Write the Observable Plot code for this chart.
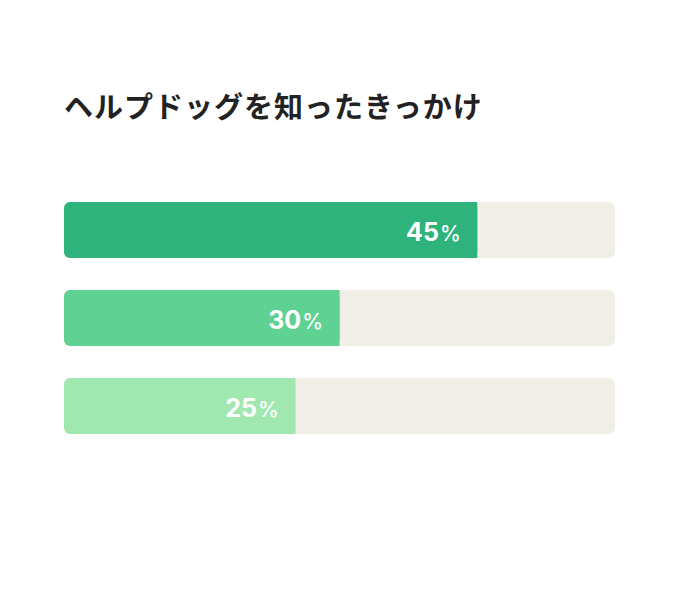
<!DOCTYPE html>
<html><head><meta charset="utf-8">
<script src="https://cdn.jsdelivr.net/npm/d3@7"></script>
<script src="https://cdn.jsdelivr.net/npm/@observablehq/plot@0.6"></script>
<style>
body{margin:0;background:#fff;}
#title{height:150px;box-sizing:border-box;padding:88px 0 0 64px;font-family:"Noto Sans CJK JP",sans-serif;font-weight:700;font-size:29px;letter-spacing:1px;color:#222;line-height:1.2;white-space:nowrap;}
</style></head>
<body>
<div id="title">ヘルプドッグを知ったきっかけ</div>
<div id="chart"></div>
<script>
const categories = ["a", "b", "c"];
const values = [45, 30, 25.2];
const labels = ["45", "30", "25"];
const colors = ["#2eb37c", "#5ed193", "#a1e8b0"];
const maxValue = 60;
const data = categories.map((c, i) => ({cat: c, value: values[i], label: labels[i], color: colors[i], half: values[i] / 2, max: maxValue}));

const chart = Plot.plot({
  width: 680,
  height: 450,
  marginTop: 0, marginBottom: 0, marginLeft: 64, marginRight: 65,
  x: {domain: [0, maxValue], range: [64, 615], axis: null},
  y: {domain: categories, range: [52, 284], paddingInner: 32/88, paddingOuter: 0, axis: null},
  style: {fontFamily: "Inter, 'Noto Sans', sans-serif", background: "#fff"},
  marks: [
    Plot.barX(data, {y: "cat", x1: 0, x2: "max", fill: "#f0eee6", rx: 6}),
    Plot.barX(data, {y: "cat", x1: 0, x2: "value", fill: "color", rx: 6}),
    Plot.barX(data, {y: "cat", x1: "half", x2: "value", fill: "color"}),
    Plot.text(data, {y: "cat", x: "value", text: "label", textAnchor: "end", dx: -17, dy: 2, fill: "#fff", fontSize: 25, fontWeight: 700})
  ]
});
document.getElementById("chart").append(chart);
chart.querySelectorAll("text").forEach(t => {
  const ts = document.createElementNS("http://www.w3.org/2000/svg", "tspan");
  ts.setAttribute("dx", "1");
  ts.setAttribute("font-size", "21");
  ts.setAttribute("font-weight", "500");
  ts.textContent = "%";
  t.appendChild(ts);
});
</script>
</body></html>
